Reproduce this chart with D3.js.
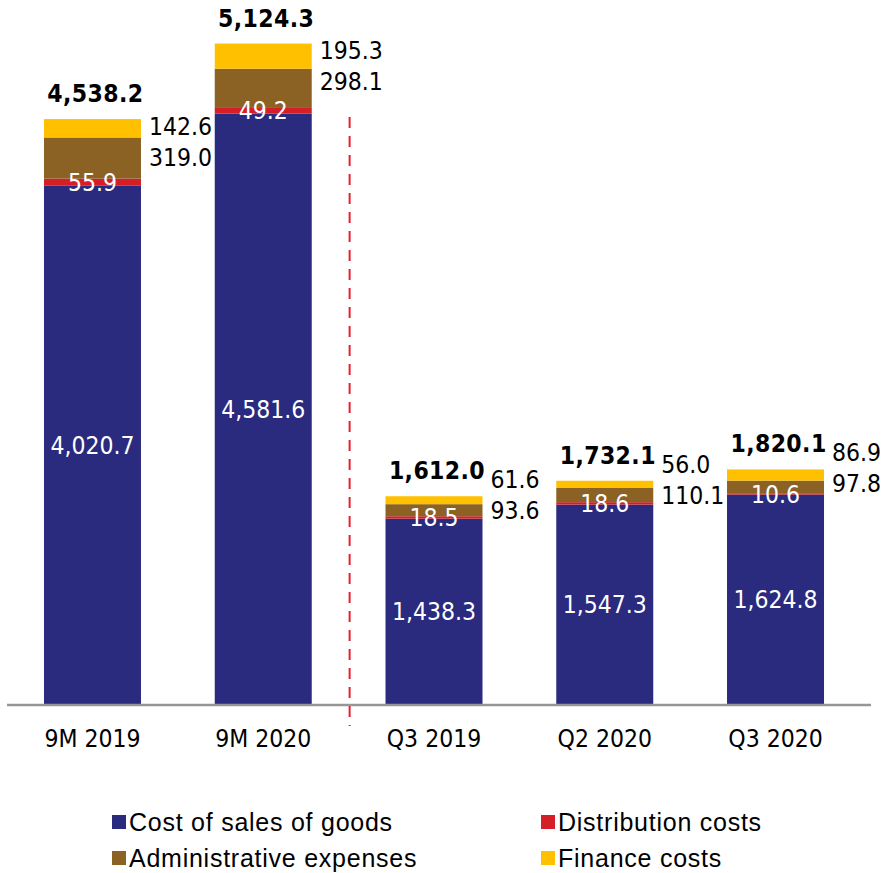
<!DOCTYPE html>
<html>
<head>
<meta charset="utf-8">
<script src="https://cdn.jsdelivr.net/npm/d3@7/dist/d3.min.js"></script>
<style>
  html, body { margin: 0; padding: 0; background: #fff; }
  svg { display: block; }
  .num { font-family: "DejaVu Sans Condensed", "DejaVu Sans", sans-serif; font-stretch: condensed; }
  .legend { font-family: "Liberation Sans", Arial, sans-serif; }
</style>
</head>
<body>
<svg id="chart" width="886" height="873"></svg>
<script>
// Periods shown on the x axis
const categories = ["9M 2019", "9M 2020", "Q3 2019", "Q2 2020", "Q3 2020"];

// Cost components, bottom to top of each stack
const costOfSales   = [4020.7, 4581.6, 1438.3, 1547.3, 1624.8];
const distribution  = [55.9, 49.2, 18.5, 18.6, 10.6];
const administrative = [319.0, 298.1, 93.6, 110.1, 97.8];
const finance       = [142.6, 195.3, 61.6, 56.0, 86.9];

// Reported totals printed above each bar
const totals = [4538.2, 5124.3, 1612.0, 1732.1, 1820.1];

const seriesNames = ["Cost of sales of goods", "Distribution costs", "Administrative expenses", "Finance costs"];
const seriesKeys = ["cost", "dist", "admin", "fin"];
const colors = ["#2a2a7e", "#d41f27", "#8b6224", "#ffc000"];

const rows = categories.map((c, i) => ({
  cat: c,
  cost: costOfSales[i],
  dist: distribution[i],
  admin: administrative[i],
  fin: finance[i],
  total: totals[i]
}));

const svg = d3.select("#chart");
const baseY = 704;

const x = d3.scaleBand()
  .domain(categories)
  .range([7.1, 860.9])
  .paddingInner(0.432)
  .paddingOuter(0.216);

const y = d3.scaleLinear()
  .domain([0, 5470])
  .range([baseY, baseY - 705]);

const stacked = d3.stack().keys(seriesKeys)(rows);

const fmt = d3.format(",.1f");

// Stacked bars
const layers = svg.append("g").selectAll("g")
  .data(stacked)
  .join("g")
  .attr("fill", (d, i) => colors[i]);

layers.selectAll("rect")
  .data(d => d)
  .join("rect")
  .attr("x", d => x(d.data.cat))
  .attr("width", x.bandwidth())
  .attr("y", d => y(d[1]))
  .attr("height", d => y(d[0]) - y(d[1]));

// Baseline
svg.append("line")
  .attr("x1", 7).attr("x2", 871)
  .attr("y1", baseY + 1).attr("y2", baseY + 1)
  .attr("stroke", "#969696")
  .attr("stroke-width", 2.5);

// Divider between nine-month and quarterly figures
const divX = (x(categories[1]) + x.bandwidth() + x(categories[2])) / 2 + 1;
svg.append("line")
  .attr("x1", divX).attr("x2", divX)
  .attr("y1", 117).attr("y2", 726)
  .attr("stroke", "#e8202d")
  .attr("stroke-width", 2)
  .attr("stroke-dasharray", "11 8");

const labels = svg.append("g").attr("class", "num");

const costLayer = stacked[0], distLayer = stacked[1], adminLayer = stacked[2], finLayer = stacked[3];

rows.forEach((r, i) => {
  const cx = x(r.cat) + x.bandwidth() / 2;
  const right = x(r.cat) + x.bandwidth();
  const top = y(finLayer[i][1]);

  // Cost of sales value, inside the bar
  const cMid = (y(costLayer[i][0]) + y(costLayer[i][1])) / 2;
  labels.append("text")
    .attr("x", cx).attr("y", cMid)
    .attr("dy", "0.36em")
    .attr("text-anchor", "middle")
    .attr("fill", "#fff")
    .attr("font-size", 24.5)
    .text(fmt(r.cost));

  // Distribution value, on its thin band
  const dMid = (y(distLayer[i][0]) + y(distLayer[i][1])) / 2;
  labels.append("text")
    .attr("x", cx).attr("y", dMid)
    .attr("dy", "0.36em")
    .attr("text-anchor", "middle")
    .attr("fill", "#fff")
    .attr("font-size", 24.5)
    .text(fmt(r.dist));

  // Finance and administrative values, to the right of the bar;
  // on the short quarterly stacks they are lifted above the bar top
  const finH = y(finLayer[i][0]) - y(finLayer[i][1]);
  const finY = finH < 15 ? top - 17 : top + 7;
  const adminY = finY + 31;
  labels.append("text")
    .attr("x", right + 8).attr("y", finY)
    .attr("dy", "0.36em")
    .attr("fill", "#000")
    .attr("font-size", 24.5)
    .text(fmt(r.fin));
  labels.append("text")
    .attr("x", right + 8).attr("y", adminY)
    .attr("dy", "0.36em")
    .attr("fill", "#000")
    .attr("font-size", 24.5)
    .text(fmt(r.admin));

  // Total above the bar
  labels.append("text")
    .attr("x", cx + 3).attr("y", top - 17)
    .attr("text-anchor", "middle")
    .attr("fill", "#000")
    .attr("font-size", 24.5)
    .attr("font-weight", "bold")
    .attr("letter-spacing", "0.4px")
    .text(fmt(r.total));

  // Category label under the axis
  labels.append("text")
    .attr("x", cx).attr("y", 747)
    .attr("text-anchor", "middle")
    .attr("fill", "#000")
    .attr("font-size", 24.5)
    .text(r.cat);
});

// Legend, two columns by two rows
const legendPos = [
  { x: 112, y: 822 },
  { x: 541, y: 822 },
  { x: 112, y: 858 },
  { x: 541, y: 858 }
];
const legend = svg.append("g").attr("class", "legend");
seriesNames.forEach((name, i) => {
  const p = legendPos[i];
  legend.append("rect")
    .attr("x", p.x).attr("y", p.y - 7)
    .attr("width", 14).attr("height", 14)
    .attr("fill", colors[i]);
  legend.append("text")
    .attr("x", p.x + 17).attr("y", p.y)
    .attr("dy", "0.35em")
    .attr("font-size", 25)
    .attr("letter-spacing", "0.75px")
    .attr("fill", "#000")
    .text(name);
});
</script>
</body>
</html>
